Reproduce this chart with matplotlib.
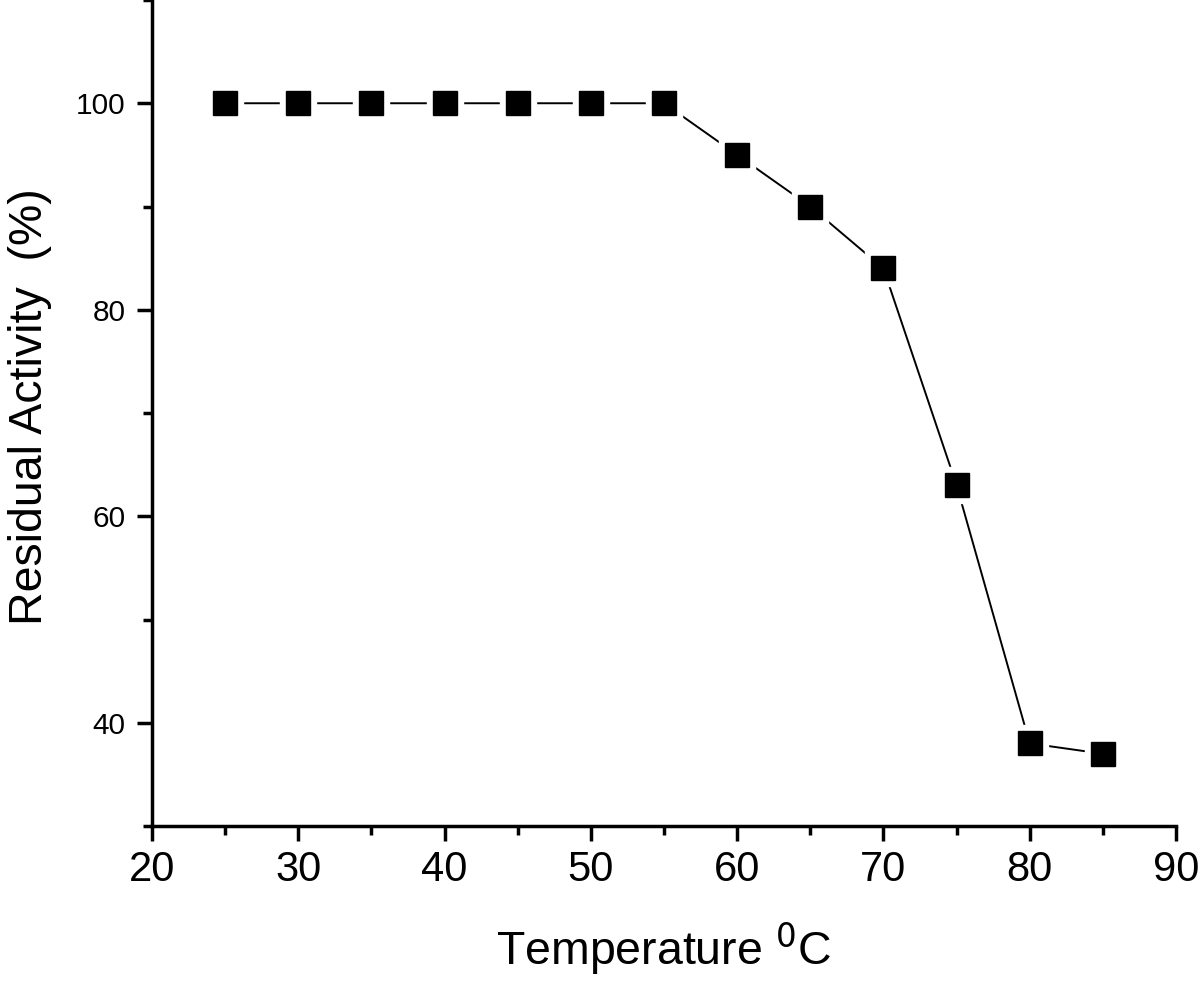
import matplotlib
matplotlib.use("Agg")
import matplotlib.pyplot as plt
from matplotlib.ticker import MultipleLocator

temperature = [25, 30, 35, 40, 45, 50, 55, 60, 65, 70, 75, 80, 85]
residual_activity = [100, 100, 100, 100, 100, 100, 100, 95, 90, 84, 63, 38, 37]
x_ticks = [20, 30, 40, 50, 60, 70, 80, 90]
y_ticks = [40, 60, 80, 100]

plt.rcParams['font.family'] = ['Liberation Sans', 'DejaVu Sans']

fig = plt.figure(figsize=(12, 9.83), dpi=100)
ax = fig.add_axes([0.1267, 0.1597, 0.8533, 0.8403])

ax.plot(temperature, residual_activity, color='black', lw=1.4, zorder=2)
ax.plot(temperature, residual_activity, ls='none', marker='s', ms=26,
        mfc='white', mec='white', zorder=3)
ax.plot(temperature, residual_activity, ls='none', marker='s', ms=17,
        mfc='black', mec='black', zorder=4)

ax.set_xlim(20, 90)
ax.set_ylim(30, 110)
ax.set_xticks(x_ticks)
ax.set_yticks(y_ticks)
ax.xaxis.set_minor_locator(MultipleLocator(5))
ax.yaxis.set_minor_locator(MultipleLocator(10))

for s in ['top', 'right']:
    ax.spines[s].set_visible(False)
for s in ['left', 'bottom']:
    ax.spines[s].set_linewidth(2.5)

ax.tick_params(which='major', direction='out', length=11, width=2.5)
ax.tick_params(which='minor', direction='out', length=6.5, width=2.5)
ax.tick_params(axis='x', which='major', labelsize=30, pad=6)
ax.tick_params(axis='y', which='major', labelsize=21.5, pad=8)

ax.set_xlabel('Temperature $^{0}$C', fontsize=33.5, labelpad=22)
ax.set_ylabel('Residual Activity  (%)', fontsize=33.5)
ax.yaxis.set_label_coords(-0.098, 0.508)

fig.savefig('out.png', dpi=100)
